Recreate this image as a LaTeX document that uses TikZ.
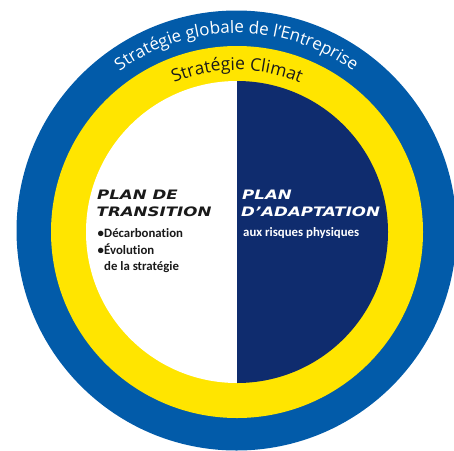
\documentclass[tikz,border=0pt]{standalone}
\usepackage{fontspec}
\setmainfont{Carlito}[Ligatures=NoCommon]
\newfontfamily\curvefont{Open Sans}
\newfontfamily\titlefont{DejaVu Sans}[FakeStretch=1.28]
\usetikzlibrary{decorations.text}
\definecolor{ringblue}{HTML}{025BA9}
\definecolor{ringyellow}{HTML}{FFE500}
\definecolor{navy}{HTML}{0F2C6E}
\definecolor{inktext}{HTML}{1A1A1A}
\begin{document}
\begin{tikzpicture}[x=1pt,y=1pt,
  titletext/.style={font=\titlefont\bfseries\itshape\fontsize{13}{13}\selectfont, inner sep=0pt, anchor=base west},
  bodytext/.style={font=\bfseries\fontsize{12.8}{12.8}\selectfont, inner sep=0pt, anchor=base west}]
\useasboundingbox (0,0) rectangle (454,-450);
\clip (0,0) rectangle (454,-450);
\coordinate (co) at (236.5,-230.5);
\coordinate (ci) at (237,-232);
\fill[ringblue] (co) circle[radius=220];
\fill[ringyellow] (ci) circle[radius=186];
\fill[white] (ci) ++(0,151) arc[start angle=90,end angle=270,radius=151] -- cycle;
\fill[navy] (ci) ++(0,151) arc[start angle=90,end angle=-90,radius=151] -- cycle;
\path[decorate, decoration={text along path, text align=center, text color=white,
  text={|\curvefont\fontsize{17}{17}\selectfont|Stratégie globale de l’Entreprise}}]
  (co) ++(140:197.5) arc[start angle=140, end angle=40, radius=197.5];
\path[decorate, decoration={text along path, text align=center, text color=inktext,
  text={|\curvefont\fontsize{17.5}{17.5}\selectfont|Stratégie Climat}}]
  (ci) ++(130:162) arc[start angle=130, end angle=50, radius=162];
\node[titletext, text=inktext] (t1) at (97,-199) {PLAN DE};
\node[titletext, text=inktext] (t2) at (96.5,-216) {TRANSITION};
\node[bodytext, text=inktext] (d1) at (97.5,-237.5) {•};
\node[bodytext, text=inktext] (b1) at (104,-237.5) {Décarbonation};
\node[bodytext, text=inktext] (d2) at (97.5,-254) {•};
\node[bodytext, text=inktext] (b2) at (104,-254) {Évolution};
\node[bodytext, text=inktext] (b3) at (104,-270) {de la stratégie};
\node[titletext, text=white] (r1) at (242,-199) {PLAN};
\node[titletext, text=white] (r2) at (241,-216) {D’ADAPTATION};
\node[bodytext, text=white] (r3) at (243,-236.5) {aux risques physiques};
\end{tikzpicture}
\end{document}
